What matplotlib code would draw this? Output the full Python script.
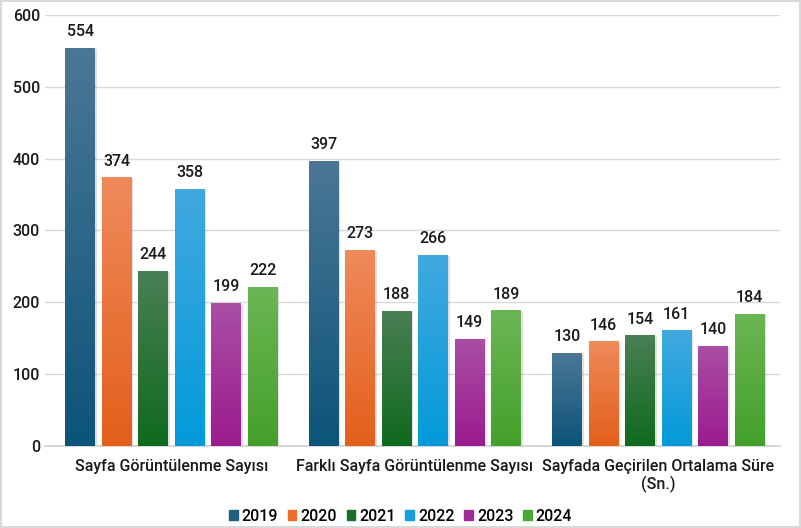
import matplotlib.pyplot as plt
import matplotlib.colors as mcolors
import numpy as np

categories = ['Sayfa Görüntülenme Sayısı', 'Farklı Sayfa Görüntülenme Sayısı',
              'Sayfada Geçirilen Ortalama Süre\n(Sn.)']
years = ['2019', '2020', '2021', '2022', '2023', '2024']
values = {
    '2019': [554, 397, 130],
    '2020': [374, 273, 146],
    '2021': [244, 188, 154],
    '2022': [358, 266, 161],
    '2023': [199, 149, 140],
    '2024': [222, 189, 184],
}
# (top colour, bottom colour) of each bar's gradient
top_colors = ['#4b7796', '#ef8a5b', '#4a7f55', '#42a9e0', '#a94fa5', '#6cb655']
bottom_colors = ['#0c5479', '#e35f1b', '#0f6a1e', '#029ad9', '#9b1b8e', '#43a02a']
legend_colors = ['#1d5f80', '#ec6e2c', '#1c6c2a', '#15a0dc', '#a02c96', '#4ea636']

plt.rcParams['font.family'] = ['Roboto', 'DejaVu Sans']
plt.rcParams['font.weight'] = 500

fig = plt.figure(figsize=(8.01, 5.28), dpi=100)
fig.patch.set_edgecolor('#d9d9d9')
fig.patch.set_linewidth(1.5)
ax = fig.add_axes([0.056, 0.155, 0.918, 0.817])

x = np.arange(len(categories))
pitch = 0.150
width = 0.123

for i, yr in enumerate(years):
    offs = (i - 2.5) * pitch
    bars = ax.bar(x + offs, values[yr], width, color=bottom_colors[i], zorder=3,
                  label=yr, linewidth=0)
    cmap = mcolors.LinearSegmentedColormap.from_list(yr, [bottom_colors[i], top_colors[i]])
    for b, v in zip(bars, values[yr]):
        bx, bw, bh = b.get_x(), b.get_width(), b.get_height()
        # soft shadow
        ax.bar(bx + bw / 2 + 0.006, bh, bw, bottom=-2, color='#000000', alpha=0.12,
               zorder=2, linewidth=0)
        grad = np.linspace(0, 1, 256).reshape(-1, 1)
        im = ax.imshow(grad, extent=[bx, bx + bw, 0, bh], origin='lower', cmap=cmap,
                       aspect='auto', zorder=3.5)
        im.set_clip_path(b)
        ax.text(bx + bw / 2, v + 12, str(v), ha='center', va='bottom',
                fontsize=11.5, color='#1a1a1a', zorder=5)

ax.set_xlim(-0.52, 2.5)
ax.set_ylim(0, 600)
ax.set_yticks(range(0, 601, 100))
ax.set_xticks(x, categories)
ax.tick_params(axis='both', length=0, labelsize=11.5, colors='#1a1a1a')
ax.tick_params(axis='x', pad=9)
ax.grid(axis='y', color='#d9d9d9', linewidth=1, zorder=0)
for s in ['top', 'right', 'left']:
    ax.spines[s].set_visible(False)
ax.spines['bottom'].set_color('#d0d0d0')
ax.spines['bottom'].set_linewidth(1.2)

handles = [plt.Rectangle((0, 0), 1, 1, color=c) for c in legend_colors]
fig.legend(handles, years, loc='center', bbox_to_anchor=(0.5, 0.022), ncol=6,
           frameon=False, fontsize=11.5, handlelength=0.55, handleheight=0.55,
           handletextpad=0.25, columnspacing=0.6)

fig.savefig('out.png', dpi=100)
